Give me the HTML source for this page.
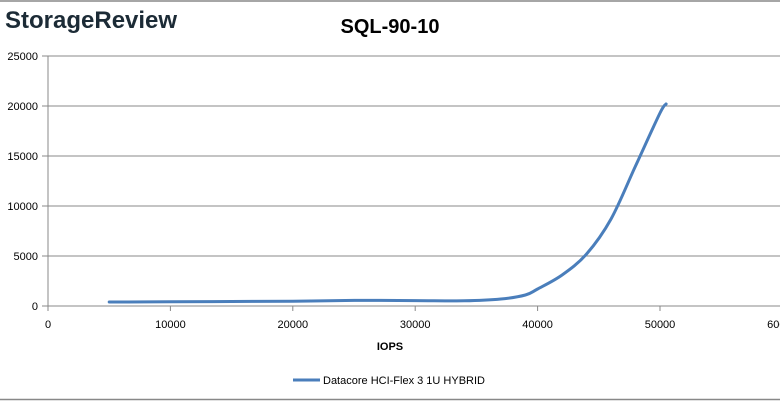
<!DOCTYPE html>
<html><head><meta charset="utf-8"><style>
body{margin:0;width:780px;height:401px;overflow:hidden;background:#fff;font-family:"Liberation Sans",sans-serif}
</style></head><body>
<svg width="780" height="401" xmlns="http://www.w3.org/2000/svg">
<line x1="0" y1="1" x2="780" y2="1" stroke="#888" stroke-width="1.5"/>
<line x1="0" y1="399.5" x2="780" y2="399.5" stroke="#888" stroke-width="1.5"/>
<text x="5" y="28" font-size="24" font-weight="bold" fill="#1c2b36" font-family="Liberation Sans">StorageReview</text>
<text x="390" y="33" text-anchor="middle" font-size="20" font-weight="bold" fill="#000">SQL-90-10</text>
<g id="grid"></g><g id="axes"></g>
<path id="line" fill="none" stroke="#4a7ebb" stroke-width="3" stroke-linecap="round"/>
<text x="390" y="350" text-anchor="middle" font-size="11" font-weight="bold">IOPS</text>
<line x1="293" y1="380" x2="320" y2="380" stroke="#4a7ebb" stroke-width="3"/>
<text x="323" y="384" font-size="11">Datacore HCI-Flex 3 1U HYBRID</text>
</svg>
<script>
const xTicks=[0,10000,20000,30000,40000,50000,60000];
const yTicks=[0,5000,10000,15000,20000,25000];
const xs=[5000,10000,15000,20000,25000,30000,34000,37000,39000,40000,42000,44000,46000,48000,50000,50500];
const ys=[400,420,450,480,560,540,520,700,1100,1700,3100,5200,8700,14000,19300,20200];
const X=v=>48+v*0.01224, Y=v=>306-v*0.01;
const ns="http://www.w3.org/2000/svg";
const g=document.getElementById('grid'),a=document.getElementById('axes');
function mk(p,t,at){const e=document.createElementNS(ns,t);for(const k in at)e.setAttribute(k,at[k]);p.appendChild(e);return e;}
yTicks.forEach(v=>{
 const l=mk(g,'line',{x1:42,x2:780,y1:Y(v),y2:Y(v),stroke:'#888','stroke-width':1});
 
 
 const t=mk(a,'text',{x:38,y:Y(v)+4,'text-anchor':'end','font-size':11});
 t.textContent=v;
 
 
});
const ax=mk(a,'line',{x1:48,x2:48,y1:Y(25000),y2:Y(0)+5,stroke:'#888'});


xTicks.forEach(v=>{
 const l=mk(a,'line',{x1:X(v),x2:X(v),y1:306,y2:311,stroke:'#888'});
 
 
 const t=mk(a,'text',{x:X(v),y:328,'text-anchor':'middle','font-size':11});
 t.textContent=v;
 
 
});
const P=xs.map((v,i)=>[X(v),Y(ys[i])]);
let d='M'+P[0][0]+','+P[0][1];
for(let i=0;i<P.length-1;i++){
 const p0=P[i-1]||P[i],p1=P[i],p2=P[i+1],p3=P[i+2]||p2;
 d+=' C'+(p1[0]+(p2[0]-p0[0])/6)+','+(p1[1]+(p2[1]-p0[1])/6)+' '+(p2[0]-(p3[0]-p1[0])/6)+','+(p2[1]-(p3[1]-p1[1])/6)+' '+p2[0]+','+p2[1];
}
document.getElementById('line').setAttribute('d',d);
</script>
</body></html>
